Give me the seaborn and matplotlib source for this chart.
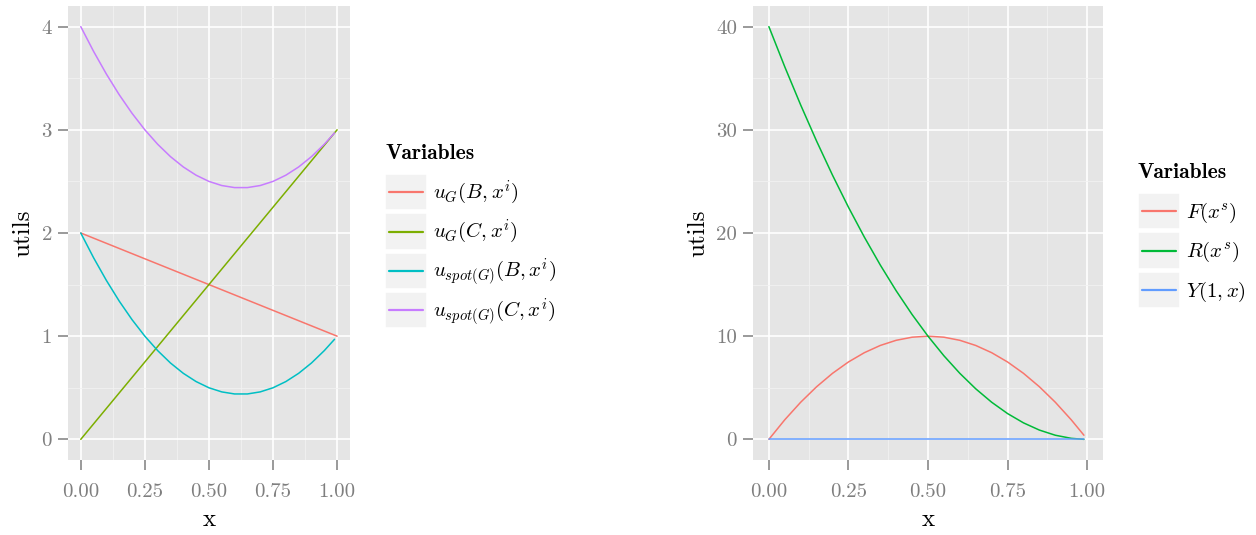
import pandas as pd
import matplotlib
matplotlib.use("Agg")
import matplotlib.pyplot as plt
import seaborn as sns
from matplotlib.lines import Line2D
from matplotlib.patches import Rectangle
from matplotlib.legend_handler import HandlerBase

# ---------------------------------------------------------
# Data
# ---------------------------------------------------------
x_lin = [0.0, 1.0]
u_g_b = [2.0, 1.0]
u_g_c = [0.0, 3.0]

x_grid = [0.00, 0.05, 0.10, 0.15, 0.20, 0.25, 0.30, 0.35, 0.40, 0.45, 0.50,
          0.55, 0.60, 0.65, 0.70, 0.75, 0.80, 0.85, 0.90, 0.95, 0.99]
u_spot_b = [2.00, 1.76, 1.54, 1.34, 1.16, 1.00, 0.86, 0.74, 0.64, 0.56, 0.50,
            0.46, 0.44, 0.44, 0.46, 0.50, 0.56, 0.64, 0.74, 0.86, 0.97]
u_spot_c = [4.00, 3.76, 3.54, 3.34, 3.16, 3.00, 2.86, 2.74, 2.64, 2.56, 2.50,
            2.46, 2.44, 2.44, 2.46, 2.50, 2.56, 2.64, 2.74, 2.86, 2.97]

f_xs = [0.0, 1.9, 3.6, 5.1, 6.4, 7.5, 8.4, 9.1, 9.6, 9.9, 10.0,
        9.9, 9.6, 9.1, 8.4, 7.5, 6.4, 5.1, 3.6, 1.9, 0.4]
r_xs = [40.0, 36.1, 32.4, 28.9, 25.6, 22.5, 19.6, 16.9, 14.4, 12.1, 10.0,
        8.1, 6.4, 4.9, 3.6, 2.5, 1.6, 0.9, 0.4, 0.1, 0.0]
y_1x = [0.0] * len(x_grid)

left_names = [r"$u_G(B,x^i)$", r"$u_G(C,x^i)$",
              r"$u_{spot(G)}(B,x^i)$", r"$u_{spot(G)}(C,x^i)$"]
left_colors = ["#F8766D", "#7CAE00", "#00BFC4", "#C77CFF"]
right_names = [r"$F(x^s)$", r"$R(x^s)$", r"$Y(1,x)$"]
right_colors = ["#F8766D", "#00BA38", "#619CFF"]

x_ticks = [0.0, 0.25, 0.5, 0.75, 1.0]
x_ticklabels = ["0.00", "0.25", "0.50", "0.75", "1.00"]
left_yticks = [0, 1, 2, 3, 4]
right_yticks = [0, 10, 20, 30, 40]

left_df = pd.concat([
    pd.DataFrame({"x": x_lin, "y": u_g_b, "var": left_names[0]}),
    pd.DataFrame({"x": x_lin, "y": u_g_c, "var": left_names[1]}),
    pd.DataFrame({"x": x_grid, "y": u_spot_b, "var": left_names[2]}),
    pd.DataFrame({"x": x_grid, "y": u_spot_c, "var": left_names[3]}),
])
right_df = pd.concat([
    pd.DataFrame({"x": x_grid, "y": f_xs, "var": right_names[0]}),
    pd.DataFrame({"x": x_grid, "y": r_xs, "var": right_names[1]}),
    pd.DataFrame({"x": x_grid, "y": y_1x, "var": right_names[2]}),
])

# ---------------------------------------------------------
# ggplot-like style
# ---------------------------------------------------------
sns.set_style("darkgrid", {"axes.facecolor": "#E5E5E5", "grid.color": "white",
                           "text.color": "black", "axes.labelcolor": "black"})
plt.rcParams["font.family"] = ["cmr10", "DejaVu Serif"]
plt.rcParams["mathtext.fontset"] = "cm"
plt.rcParams["axes.formatter.use_mathtext"] = True

fig = plt.figure(figsize=(12.56, 5.35), dpi=100)
ax1 = fig.add_axes([0.0541, 0.1402, 0.2245, 0.8486])
ax2 = fig.add_axes([0.5995, 0.1402, 0.2787, 0.8486])


def style_axes(ax, yticks, yminor, ylim):
    ax.set_xlim(-0.05, 1.05)
    ax.set_ylim(*ylim)
    ax.set_xticks(x_ticks)
    ax.set_xticklabels(x_ticklabels)
    ax.set_yticks(yticks)
    ax.set_yticklabels([str(t) for t in yticks])
    ax.set_xticks([0.125, 0.375, 0.625, 0.875], minor=True)
    ax.set_yticks(yminor, minor=True)
    ax.grid(which="major", color="white", linewidth=1.2)
    ax.grid(which="minor", color="#F2F2F2", linewidth=0.6)
    ax.set_axisbelow(True)
    for s in ax.spines.values():
        s.set_visible(False)
    ax.tick_params(which="major", length=7.5, width=1.1, color="#7F7F7F",
                   labelcolor="#7F7F7F", labelsize=15, pad=4,
                   bottom=True, left=True)
    ax.tick_params(axis="x", which="major", pad=9)
    ax.tick_params(which="minor", length=0)
    ax.set_xlabel("x", fontsize=18, labelpad=6, color="black")
    ax.set_ylabel("utils", fontsize=18, labelpad=5, color="black")


sns.lineplot(data=left_df, x="x", y="y", hue="var", palette=left_colors,
             hue_order=left_names, ax=ax1, legend=False, linewidth=1.1,
             sort=False, estimator=None)
sns.lineplot(data=right_df, x="x", y="y", hue="var", palette=right_colors,
             hue_order=right_names, ax=ax2, legend=False, linewidth=1.1,
             sort=False, estimator=None)

style_axes(ax1, left_yticks, [0.5, 1.5, 2.5, 3.5], (-0.2, 4.2))
style_axes(ax2, right_yticks, [5, 15, 25, 35], (-2, 42))


class KeyHandler(HandlerBase):
    """ggplot style legend key: grey box with a line through the middle."""

    def create_artists(self, legend, orig_handle, xdescent, ydescent,
                       width, height, fontsize, trans):
        box = Rectangle((-xdescent, -ydescent), width, height,
                        facecolor="#F2F2F2", edgecolor="white", linewidth=1.2,
                        transform=trans)
        y = -ydescent + height / 2
        line = Line2D([-xdescent + width * 0.1, -xdescent + width * 0.9], [y, y],
                      color=orig_handle.get_color(), linewidth=1.6,
                      transform=trans)
        return [box, line]


def add_legend(names, colors, anchor):
    handles = [Line2D([], [], color=c) for c in colors]
    leg = fig.legend(handles, names, loc="upper left", bbox_to_anchor=anchor,
                     handler_map={Line2D: KeyHandler()},
                     frameon=False, fontsize=15, title="Variables",
                     title_fontproperties={"family": "cmb10", "size": 15.5},
                     alignment="left", handlelength=2.0, handleheight=2.3,
                     handletextpad=0.3, labelspacing=0.15, borderpad=0,
                     borderaxespad=0, labelcolor="black")
    leg.get_title().set_color("black")
    leg._legend_box.sep = 8
    return leg


add_legend(left_names, left_colors, (385 / 1256, 1 - 144 / 535))
add_legend(right_names, right_colors, (1138 / 1256, 1 - 163 / 535))

fig.savefig("out.png", dpi=100)
